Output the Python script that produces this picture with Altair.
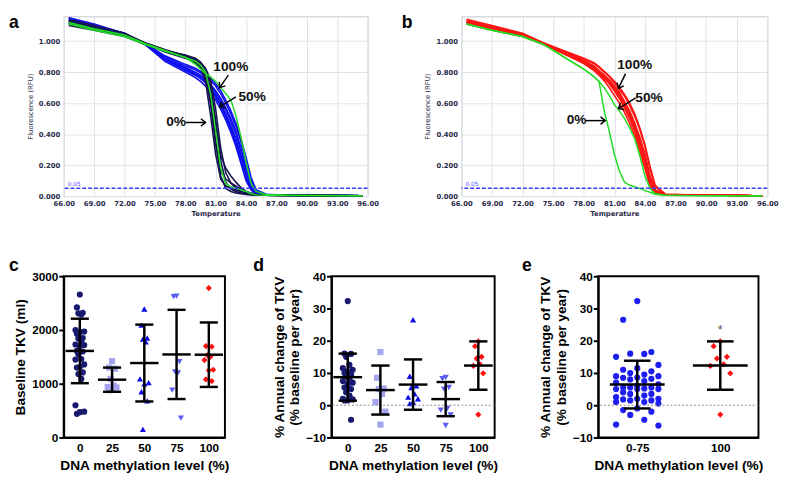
import math
import altair as alt
import pandas as pd

# ---------------- melting-curve data (panels a, b) ----------------
TEMP = [66.5, 69, 72, 74, 76, 78, 79, 79.5, 80, 80.5, 81, 81.5, 82, 82.5, 83, 83.5,
        84, 84.5, 85, 86, 88, 92, 95.5]

A_NAVY = [
    [1.12, 1.08, 1.04, 0.985, 0.94, 0.905, 0.88, 0.855, 0.79, 0.62, 0.36, 0.13, 0.05, 0.03, 0.02, 0.015, 0.01, 0.008, 0.006, 0.005, 0.004, 0.003, 0.002],
    [1.10, 1.07, 1.03, 0.98, 0.935, 0.90, 0.875, 0.85, 0.81, 0.71, 0.49, 0.23, 0.09, 0.045, 0.03, 0.02, 0.015, 0.01, 0.008, 0.005, 0.004, 0.003, 0.002],
    [1.11, 1.08, 1.04, 0.985, 0.93, 0.89, 0.86, 0.83, 0.74, 0.52, 0.27, 0.11, 0.065, 0.05, 0.04, 0.03, 0.02, 0.012, 0.008, 0.005, 0.004, 0.003, 0.002],
    [1.13, 1.09, 1.04, 0.99, 0.945, 0.905, 0.875, 0.845, 0.80, 0.69, 0.46, 0.26, 0.18, 0.13, 0.09, 0.055, 0.03, 0.015, 0.008, 0.005, 0.004, 0.003, 0.002],
    [1.12, 1.08, 1.035, 0.98, 0.94, 0.91, 0.89, 0.865, 0.825, 0.75, 0.56, 0.31, 0.15, 0.085, 0.05, 0.03, 0.02, 0.012, 0.008, 0.005, 0.004, 0.003, 0.002],
    [1.14, 1.10, 1.05, 0.99, 0.945, 0.90, 0.865, 0.835, 0.77, 0.59, 0.33, 0.16, 0.11, 0.085, 0.065, 0.045, 0.03, 0.02, 0.01, 0.005, 0.004, 0.003, 0.002],
]
A_BLUE = [
    [1.13, 1.09, 1.04, 0.98, 0.89, 0.83, 0.80, 0.78, 0.76, 0.72, 0.68, 0.63, 0.57, 0.50, 0.42, 0.31, 0.18, 0.07, 0.025, 0.008, 0.005, 0.004, 0.002],
    [1.15, 1.10, 1.05, 0.98, 0.88, 0.81, 0.78, 0.76, 0.73, 0.69, 0.64, 0.58, 0.51, 0.43, 0.34, 0.23, 0.12, 0.045, 0.015, 0.006, 0.005, 0.004, 0.002],
    [1.12, 1.08, 1.04, 0.985, 0.90, 0.84, 0.815, 0.795, 0.775, 0.745, 0.71, 0.66, 0.60, 0.53, 0.45, 0.35, 0.22, 0.10, 0.035, 0.01, 0.005, 0.004, 0.002],
    [1.14, 1.10, 1.05, 0.98, 0.87, 0.80, 0.765, 0.74, 0.71, 0.67, 0.62, 0.56, 0.49, 0.41, 0.32, 0.21, 0.10, 0.04, 0.012, 0.006, 0.005, 0.004, 0.002],
    [1.13, 1.09, 1.045, 0.98, 0.89, 0.825, 0.795, 0.775, 0.75, 0.715, 0.67, 0.62, 0.555, 0.48, 0.40, 0.29, 0.17, 0.07, 0.02, 0.008, 0.005, 0.004, 0.002],
    [1.15, 1.11, 1.05, 0.985, 0.885, 0.82, 0.79, 0.765, 0.74, 0.70, 0.655, 0.60, 0.53, 0.455, 0.37, 0.26, 0.14, 0.055, 0.018, 0.007, 0.005, 0.004, 0.002],
    [1.11, 1.08, 1.04, 0.985, 0.905, 0.85, 0.825, 0.805, 0.785, 0.76, 0.725, 0.68, 0.62, 0.55, 0.47, 0.37, 0.25, 0.12, 0.04, 0.012, 0.006, 0.004, 0.002],
    [1.14, 1.10, 1.05, 0.98, 0.88, 0.815, 0.785, 0.76, 0.735, 0.695, 0.645, 0.585, 0.52, 0.44, 0.355, 0.25, 0.13, 0.05, 0.016, 0.006, 0.005, 0.004, 0.002],
]
A_GREEN = [
    [1.12, 1.08, 1.04, 0.985, 0.94, 0.895, 0.85, 0.82, 0.79, 0.77, 0.74, 0.70, 0.66, 0.62, 0.52, 0.38, 0.22, 0.08, 0.03, 0.01, 0.006, 0.004, 0.002],
    [1.11, 1.07, 1.03, 0.98, 0.935, 0.895, 0.87, 0.845, 0.80, 0.66, 0.42, 0.18, 0.08, 0.06, 0.05, 0.04, 0.03, 0.015, 0.008, 0.005, 0.004, 0.003, 0.002],
]
B_RED = [
    [1.12, 1.08, 1.04, 0.985, 0.93, 0.87, 0.83, 0.80, 0.77, 0.74, 0.69, 0.65, 0.59, 0.52, 0.45, 0.35, 0.24, 0.10, 0.03, 0.01, 0.008, 0.006, 0.0],
    [1.13, 1.09, 1.045, 0.985, 0.935, 0.885, 0.855, 0.83, 0.80, 0.77, 0.73, 0.69, 0.645, 0.585, 0.515, 0.43, 0.32, 0.18, 0.06, 0.012, 0.008, 0.006, 0.0],
    [1.11, 1.075, 1.035, 0.985, 0.92, 0.855, 0.81, 0.78, 0.745, 0.70, 0.65, 0.60, 0.54, 0.47, 0.39, 0.29, 0.18, 0.065, 0.02, 0.01, 0.008, 0.006, 0.0],
    [1.14, 1.10, 1.05, 0.99, 0.94, 0.89, 0.86, 0.835, 0.805, 0.775, 0.74, 0.70, 0.655, 0.60, 0.53, 0.44, 0.33, 0.19, 0.07, 0.012, 0.008, 0.006, 0.0],
    [1.12, 1.08, 1.04, 0.98, 0.92, 0.86, 0.82, 0.79, 0.76, 0.725, 0.68, 0.63, 0.57, 0.50, 0.42, 0.32, 0.21, 0.085, 0.025, 0.01, 0.008, 0.006, 0.0],
    [1.13, 1.09, 1.045, 0.99, 0.935, 0.875, 0.84, 0.81, 0.78, 0.75, 0.71, 0.67, 0.61, 0.55, 0.47, 0.38, 0.27, 0.13, 0.04, 0.01, 0.008, 0.006, 0.0],
    [1.11, 1.07, 1.03, 0.98, 0.925, 0.865, 0.825, 0.795, 0.765, 0.73, 0.69, 0.645, 0.585, 0.515, 0.44, 0.34, 0.24, 0.11, 0.035, 0.01, 0.008, 0.006, 0.0],
    [1.12, 1.085, 1.04, 0.985, 0.925, 0.87, 0.835, 0.805, 0.775, 0.745, 0.705, 0.66, 0.605, 0.54, 0.46, 0.36, 0.25, 0.12, 0.03, 0.01, 0.008, 0.006, 0.0],
]
B_GREEN = [
    [1.11, 1.07, 1.03, 0.98, 0.90, 0.82, 0.77, 0.74, 0.55, 0.42, 0.27, 0.16, 0.09, 0.07, 0.06, 0.05, 0.035, 0.025, 0.012, 0.005, 0.003, 0.002, 0.0],
    [1.11, 1.07, 1.03, 0.98, 0.90, 0.82, 0.77, 0.74, 0.70, 0.65, 0.59, 0.55, 0.50, 0.44, 0.37, 0.26, 0.13, 0.05, 0.015, 0.005, 0.003, 0.002, 0.0],
]
X_TICKS = [66, 69, 72, 75, 78, 81, 84, 87, 90, 93, 96]
Y_TICKS = [0.0, 0.2, 0.4, 0.6, 0.8, 1.0]
THRESHOLD = [0.05]

ANN_TEXT = ["100%", "50%", "0%"]
A_ANN_T = [82.5, 84.6, 77.1]
A_ANN_V = [0.83, 0.64, 0.48]
A_ARR = [(82.25, 0.78, 81.4, 0.70), (83.0, 0.64, 81.4, 0.575), (78.05, 0.475, 80.0, 0.475)]
B_ANN_T = [83.0, 84.4, 77.3]
B_ANN_V = [0.845, 0.63, 0.49]
B_ARR = [(82.1, 0.79, 81.4, 0.695), (83.1, 0.633, 81.4, 0.564), (78.2, 0.487, 80.1, 0.487)]

# ---------------- scatter data (panels c, d, e) ----------------
C_CATS = ["0", "25", "50", "75", "100"]
C_G0 = [2660, 2420, 2320, 2290, 2310, 2000, 1970, 1930, 1960, 1850, 1840, 1800, 1730, 1720,
        1700, 1610, 1600, 1550, 1460, 1450, 1360, 1300, 1310, 1180, 1210, 1090, 600, 480, 470, 440]
C_G25 = [1420, 1300, 1280, 1090, 970, 940, 930, 900, 880]
C_G50 = [2390, 2090, 1850, 1830, 1780, 1090, 1020, 1000, 850, 680, 150]
C_G75 = [2630, 2620, 1410, 1220, 1200, 880, 360]
C_G100 = [2780, 1700, 1690, 1530, 1500, 1440, 1260, 1250, 1080, 1050]
C_MEAN = [1610, 1075, 1385, 1545, 1540]
C_SD = [600, 225, 715, 830, 600]

D_G0 = [32.3, 16.0, 15.9, 15.0, 12.5, 11.5, 11.0, 10.5, 10.0, 9.5, 9.0, 8.0, 7.5, 7.0, 6.5,
        5.5, 5.0, 4.0, 3.0, 2.0, 1.8, 1.5, 1.5, -4.5]
D_G25 = [16.5, 8.5, 5.2, 5.0, 3.5, 1.0, -2.0, -6.0]
D_G50 = [26.5, 9.0, 6.0, 5.5, 3.5, 2.5, 2.0, 1.0, 0.5]
D_G75 = [8.6, 8.2, 5.5, 5.0, -1.0, -1.5, -3.0, -6.3]
D_G100 = [19.8, 18.3, 15.0, 14.5, 12.7, 12.2, 9.9, -2.9]
D_MEAN = [8.7, 4.7, 6.4, 1.9, 12.3]
D_SD = [7.3, 7.6, 7.8, 5.3, 7.5]

E_CATS = ["0-75", "100"]
E_LOW = D_G0 + D_G25 + D_G50 + D_G75
E_HIGH = D_G100
E_MEAN = [6.4, 12.3]
E_SD = [7.4, 7.5]
E_STAR = ["*"]
ZERO = [0]

# ---------------- styling ----------------
MFONT = "DejaVu Sans"
MTEXT = "#2a2a4a"
GRID = "#dfe3ea"
SFONT = "Liberation Sans"
NAVY = "#141450"
BLUE = "#1010ee"
GREEN = "#22dd22"
RED = "#ff1414"

MW, MH = 311, 184


def curves_df(curves, prefix):
    rows = []
    for k, vals in enumerate(curves):
        for t, v in zip(TEMP, vals):
            rows.append({"T": t, "F": v, "id": f"{prefix}{k}"})
    return pd.DataFrame(rows)


def melt_panel(layers, ann_t, ann_v, arrows, label, label_x, width):
    xs = alt.Scale(domain=[66, 96], nice=False, zero=False)
    ys = alt.Scale(domain=[0, 1.16], nice=False, zero=False)
    xax = alt.Axis(values=X_TICKS, format=".2f", title="Temperature", grid=True, gridColor=GRID,
                   ticks=False, domain=False, labelFlush=False, labelOverlap=False, labelFont=MFONT,
                   labelFontSize=7, labelFontWeight="bold", labelColor=MTEXT, labelPadding=4,
                   titleFont=MFONT, titleFontSize=7, titleFontWeight="bold", titleColor=MTEXT,
                   titlePadding=3)
    yax = alt.Axis(values=Y_TICKS, format=".3f", title="Fluorescence (RFU)", grid=True, gridColor=GRID,
                   ticks=False, domain=False, labelOverlap=False, labelFont=MFONT, labelFontSize=7,
                   labelFontWeight="bold", labelColor=MTEXT, labelPadding=4, titleFont=MFONT,
                   titleFontSize=7, titleFontWeight="normal", titleColor=MTEXT, titlePadding=5)

    def X(f):
        return alt.X(f, scale=xs, axis=xax)

    def Y(f):
        return alt.Y(f, scale=ys, axis=yax)

    charts = []
    for df, color, sw in layers:
        charts.append(alt.Chart(df).mark_line(color=color, strokeWidth=sw).encode(
            x=X("T:Q"), y=Y("F:Q"), detail="id:N"))

    thr = pd.DataFrame({"t": [66.4], "v": THRESHOLD, "s": ["0.05"]})
    charts.append(alt.Chart(thr).mark_rule(color="#3b3bff", strokeWidth=1.5, strokeDash=[4, 2]).encode(
        y=Y("v:Q")))
    charts.append(alt.Chart(thr).mark_text(
        align="left", baseline="bottom", dy=-1, fontSize=6, font=MFONT, color="#5555ff").encode(
        x=X("t:Q"), y=Y("v:Q"), text="s:N"))

    sx = width / 30.0
    sy = MH / 1.16
    arr = pd.DataFrame({
        "t0": [a[0] for a in arrows], "v0": [a[1] for a in arrows],
        "t1": [a[2] for a in arrows], "v1": [a[3] for a in arrows],
    })
    arr["ang"] = [math.degrees(math.atan2(-(a[3] - a[1]) * sy, (a[2] - a[0]) * sx)) for a in arrows]
    charts.append(alt.Chart(arr).mark_rule(color="black", strokeWidth=1.5).encode(
        x=X("t0:Q"), y=Y("v0:Q"), x2="t1:Q", y2="v1:Q"))
    charts.append(alt.Chart(arr).mark_point(shape="M-1,-0.8L0,0L-1,0.8", filled=False, size=90,
                                            strokeWidth=1.5, color="black", opacity=1).encode(
        x=X("t1:Q"), y=Y("v1:Q"), angle=alt.Angle("ang:Q", scale=None)))
    txt = pd.DataFrame({"t": ann_t, "v": ann_v, "s": ANN_TEXT})
    charts.append(alt.Chart(txt).mark_text(fontSize=14, fontWeight="bold", font=SFONT, color="#111").encode(
        x=X("t:Q"), y=Y("v:Q"), text="s:N"))
    charts.append(alt.Chart(pd.DataFrame({"s": [label]})).mark_text(
        align="left", baseline="top", fontSize=18, fontWeight="bold", font=SFONT, color="black").encode(
        x=alt.value(label_x), y=alt.value(-2), text="s:N"))
    return alt.layer(*charts).properties(width=width, height=MH,
                                         view=alt.ViewBackground(stroke="#c4c8d0", strokeWidth=1))


PATTERN = [0.0, -1.0, 1.0, -0.5, 0.5, -1.5, 1.5]


def points_df(groups, spreads, names):
    rows = []
    for idx, (vals, spread, name) in enumerate(zip(groups, spreads, names)):
        order = sorted(range(len(vals)), key=lambda i: -vals[i])
        for rank, i in enumerate(order):
            rows.append({"x": idx + PATTERN[rank % len(PATTERN)] * spread, "v": vals[i], "grp": name})
    return pd.DataFrame(rows)


def scatter_panel(pts, means, sds, cats, colors, shapes, ydom, yticks, ytitle, width, xdom,
                  label, label_x, cap, half, zero_line=False, star=None):
    xs = alt.Scale(domain=xdom, nice=False, zero=False)
    ys = alt.Scale(domain=ydom, nice=False, zero=False)
    lab = "[" + ",".join(f"'{c}'" for c in cats) + "][datum.value]"
    xax = alt.Axis(values=list(range(len(cats))), labelExpr=lab, title="DNA methylation level (%)",
                   ticks=False, grid=False, domainColor="black", domainWidth=2, labelFlush=False,
                   labelOverlap=False, labelFont=SFONT, labelFontSize=12, labelFontWeight="bold",
                   labelColor="black", labelPadding=5, titleFont=SFONT, titleFontSize=14,
                   titleFontWeight="bold", titleColor="black", titlePadding=6)
    yax = alt.Axis(values=yticks, format="d", title=ytitle, grid=False, tickColor="black", tickWidth=2,
                   tickSize=5, domainColor="black", domainWidth=2, labelOverlap=False, labelFont=SFONT,
                   labelFontSize=12, labelFontWeight="bold", labelColor="black", labelPadding=1,
                   titleFont=SFONT, titleFontSize=14, titleFontWeight="bold", titleColor="black",
                   titlePadding=4, titleLineHeight=16)

    def X(f):
        return alt.X(f, scale=xs, axis=xax)

    def Y(f):
        return alt.Y(f, scale=ys, axis=yax)

    layers = []
    layers.append(alt.Chart(pts).mark_point(filled=True, size=40, opacity=1).encode(
        x=X("x:Q"), y=Y("v:Q"),
        color=alt.Color("grp:N", scale=alt.Scale(domain=cats, range=colors), legend=None),
        shape=alt.Shape("grp:N", scale=alt.Scale(domain=cats, range=shapes), legend=None)))
    if zero_line:
        layers.append(alt.Chart(pd.DataFrame({"z": ZERO})).mark_rule(
            color="#888888", strokeWidth=1, strokeDash=[2, 2]).encode(y=Y("z:Q")))
    summ = pd.DataFrame({"idx": list(range(len(cats))), "mean": means, "sd": sds})
    base = alt.Chart(summ).transform_calculate(
        lo="datum.mean - datum.sd", hi="datum.mean + datum.sd",
        cl=f"datum.idx - {cap}", cr=f"datum.idx + {cap}",
        ml=f"datum.idx - {half}", mr=f"datum.idx + {half}")
    rs = dict(color="black", strokeWidth=2.5)
    layers.append(base.mark_rule(**rs).encode(x=X("idx:Q"), y=Y("lo:Q"), y2="hi:Q"))
    layers.append(base.mark_rule(**rs).encode(x=X("cl:Q"), x2="cr:Q", y=Y("hi:Q")))
    layers.append(base.mark_rule(**rs).encode(x=X("cl:Q"), x2="cr:Q", y=Y("lo:Q")))
    layers.append(base.mark_rule(**rs).encode(x=X("ml:Q"), x2="mr:Q", y=Y("mean:Q")))
    if star is not None:
        layers.append(alt.Chart(pd.DataFrame({"x": [star[0]], "v": [star[1]], "s": E_STAR})).mark_text(
            fontSize=13, color="#555555", font=SFONT).encode(x=X("x:Q"), y=Y("v:Q"), text="s:N"))
    layers.append(alt.Chart(pd.DataFrame({"s": [label]})).mark_text(
        align="left", baseline="top", fontSize=18, fontWeight="bold", font=SFONT, color="black").encode(
        x=alt.value(label_x), y=alt.value(-19), text="s:N"))
    return alt.layer(*layers).properties(width=width, height=165,
                                         view=alt.ViewBackground(stroke="black", strokeWidth=2))


pa = melt_panel([(curves_df(A_BLUE, "b"), BLUE, 1.6), (curves_df(A_NAVY, "n"), NAVY, 1.6),
                 (curves_df(A_GREEN, "g"), GREEN, 1.5)],
                A_ANN_T, A_ANN_V, A_ARR, "a", -56, MW)
pb = melt_panel([(curves_df(B_RED, "r"), RED, 1.7), (curves_df(B_GREEN, "g"), GREEN, 1.5)],
                B_ANN_T, B_ANN_V, B_ARR, "b", -61, 313)

C_COLORS = ["#191970", "#a4a4ef", "#0c0ce8", "#5c5cf5", "#ff1010"]
SHAPES5 = ["circle", "square", "triangle-up", "triangle-down", "diamond"]
pc = scatter_panel(points_df([C_G0, C_G25, C_G50, C_G75, C_G100], [0.09] * 5, C_CATS),
                   C_MEAN, C_SD, C_CATS, C_COLORS, SHAPES5, [0, 3000], [0, 1000, 2000, 3000],
                   "Baseline TKV (ml)", 165, [-0.5, 4.5], "c", -56, 0.28, 0.44)
pdd = scatter_panel(points_df([D_G0, D_G25, D_G50, D_G75, D_G100], [0.1] * 5, C_CATS),
                    D_MEAN, D_SD, C_CATS, C_COLORS, SHAPES5, [-10, 40], [-10, 0, 10, 20, 30, 40],
                    ["% Annual change of  TKV", "(% baseline per year)"], 167, [-0.5, 4.5],
                    "d", -80, 0.28, 0.44, zero_line=True)
pe = scatter_panel(points_df([E_LOW, E_HIGH], [0.17, 0.08], E_CATS),
                   E_MEAN, E_SD, E_CATS, ["#1e1ef0", "#ff1010"], ["circle", "diamond"],
                   [-10, 40], [-10, 0, 10, 20, 30, 40],
                   ["% Annual change of  TKV", "(% baseline per year)"], 164, [-0.47, 1.46],
                   "e", -78, 0.16, 0.33, zero_line=True, star=(1.0, 23.3))

top = alt.hconcat(pa, pb, spacing=22)
bottom = alt.hconcat(pc, pdd, pe, spacing=22).resolve_scale(color="independent", shape="independent")
chart = alt.vconcat(top, bottom, spacing=40).properties(padding=0, background="white")

chart.save("out.html", embed_options={"renderer": "svg", "actions": False})
